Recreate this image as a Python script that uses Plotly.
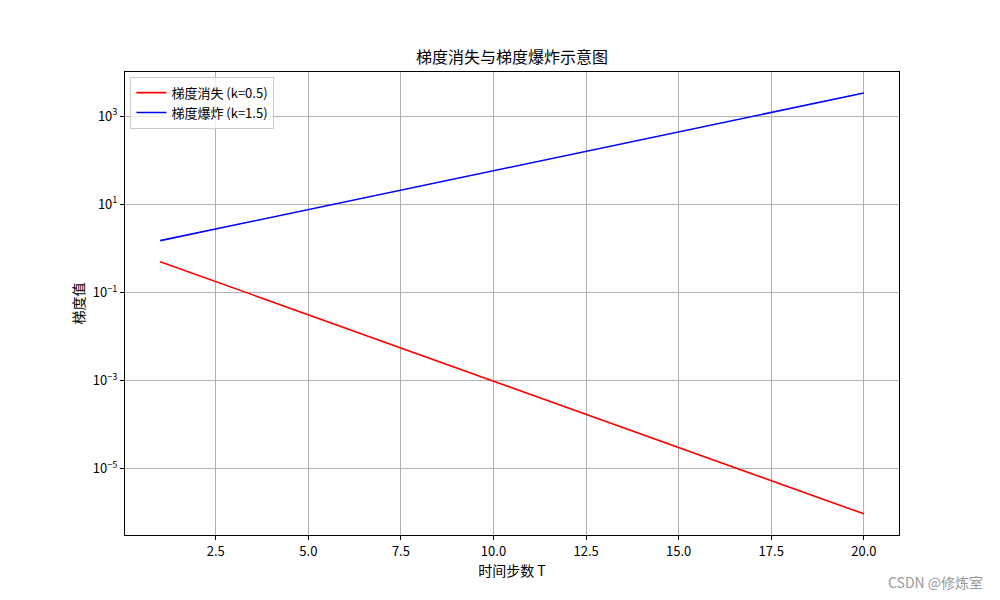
import plotly.graph_objects as go

T = list(range(1, 21))
vanish = [0.5, 0.25, 0.125, 0.0625, 0.03125, 0.015625, 0.0078125, 0.00390625,
          0.001953, 0.0009766, 0.0004883, 0.0002441, 0.0001221, 6.10e-5,
          3.05e-5, 1.53e-5, 7.63e-6, 3.81e-6, 1.91e-6, 9.54e-7]
explode = [1.5, 2.25, 3.375, 5.0625, 7.59, 11.39, 17.09, 25.63, 38.44, 57.67,
           86.50, 129.75, 194.62, 291.93, 437.89, 656.84, 985.26, 1477.89,
           2216.84, 3325.26]
ytick_vals = [1e3, 1e1, 1e-1, 1e-3, 1e-5]
ytick_text = ["10<sup>3</sup>", "10<sup>1</sup>", "10<sup>−1</sup>",
              "10<sup>−3</sup>", "10<sup>−5</sup>"]
xtick_vals = [2.5, 5.0, 7.5, 10.0, 12.5, 15.0, 17.5, 20.0]
xtick_text = ["2.5", "5.0", "7.5", "10.0", "12.5", "15.0", "17.5", "20.0"]

font = "Noto Sans CJK SC, SimHei, sans-serif"

fig = go.Figure()
fig.add_trace(go.Scatter(x=T, y=vanish, mode="lines", name="梯度消失 (k=0.5)",
                         line=dict(color="red", width=1.6)))
fig.add_trace(go.Scatter(x=T, y=explode, mode="lines", name="梯度爆炸 (k=1.5)",
                         line=dict(color="blue", width=1.6)))

fig.update_layout(
    width=1000, height=600,
    paper_bgcolor="white", plot_bgcolor="white",
    margin=dict(l=117, r=109, t=64, b=73),
    font=dict(family=font, color="black", size=13),
    title=dict(text="梯度消失与梯度爆炸示意图", x=0.504, xanchor="center",
               y=0.917, yanchor="middle", font=dict(size=16)),
    showlegend=True,
    legend=dict(x=0.007, y=0.99, xanchor="left", yanchor="top",
                bgcolor="rgba(255,255,255,0.8)", bordercolor="#cccccc",
                borderwidth=1, font=dict(size=13)),
    annotations=[dict(text="CSDN @修炼室", xref="paper", yref="paper",
                      x=(977 - 117) / 774, y=-(574 - 527) / 463,
                      xanchor="right", yanchor="middle",
                      showarrow=False, font=dict(size=14, color="#999999"))],
)
fig.update_xaxes(range=[0.05, 20.95], tickvals=xtick_vals, ticktext=xtick_text,
                 showgrid=True, gridcolor="#b0b0b0", gridwidth=0.8,
                 showline=True, linecolor="black", linewidth=1, mirror=True,
                 ticks="outside", ticklen=4, tickcolor="black",
                 zeroline=False, tickfont=dict(size=13),
                 title=dict(text="时间步数 T", font=dict(size=14), standoff=2))
fig.update_yaxes(type="log", range=[-6.5, 4.0], tickvals=ytick_vals, ticktext=ytick_text,
                 showgrid=True, gridcolor="#b0b0b0", gridwidth=0.8,
                 showline=True, linecolor="black", linewidth=1, mirror=True,
                 ticks="outside", ticklen=4, tickcolor="black",
                 zeroline=False, tickfont=dict(size=13),
                 title=dict(text="梯度值", font=dict(size=14), standoff=4))

fig.write_html("out.html")
